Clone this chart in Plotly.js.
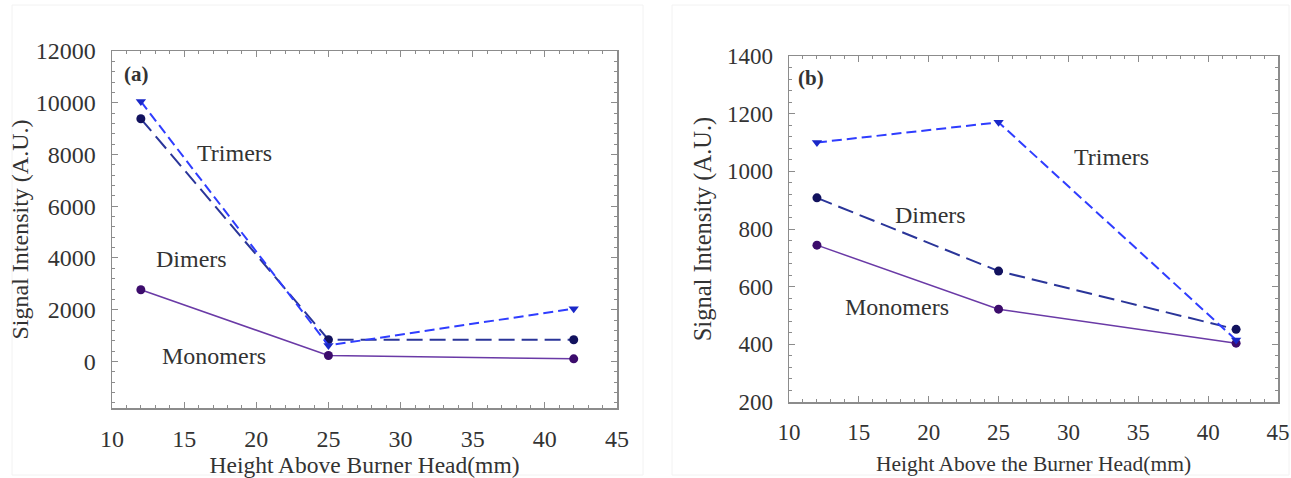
<!DOCTYPE html>
<html>
<head>
<meta charset="utf-8">
<script src="https://cdn.plot.ly/plotly-3.0.1.min.js"></script>
<style>html,body{margin:0;padding:0;background:#fff}#chart{width:1291px;height:478px}</style>
</head>
<body>
<div id="chart"></div>
<script>
// Panel (a)
var heightA = [12, 25, 42];
var trimersA = [10050, 620, 2040];
var dimersA = [9380, 840, 840];
var monomersA = [2770, 230, 100];
// Panel (b)
var heightB = [12, 25, 42];
var trimersB = [1100, 1170, 415];
var dimersB = [908, 654, 452];
var monomersB = [744, 522, 404];

var W = 1291, H = 478;
var serif = "Liberation Serif, Times New Roman, serif";
var txt = "#333333";
var frame = "#8c8c8c";

var cTri = "#2f3dff", cTriM = "#1a28c8";
var cDim = "#2a3599", cDimM = "#12125e";
var cMon = "#6a3aa6", cMonM = "#3c0c6c";

function tr(x, y, xa, ya, kind) {
  var t = {x: x, y: y, xaxis: xa, yaxis: ya, mode: "lines+markers", showlegend: false, hoverinfo: "x+y"};
  if (kind === "tri") {
    t.name = "Trimers";
    t.line = {color: cTri, width: 2, dash: "10px,5px"};
    t.marker = {symbol: "triangle-down", size: 9, color: cTriM};
  } else if (kind === "dim") {
    t.name = "Dimers";
    t.line = {color: cDim, width: 2, dash: "16px,7px"};
    t.marker = {symbol: "circle", size: 9, color: cDimM};
  } else {
    t.name = "Monomers";
    t.line = {color: cMon, width: 1.5};
    t.marker = {symbol: "circle", size: 9, color: cMonM};
  }
  return t;
}

var data = [
  tr(heightA, monomersA, "x", "y", "mon"),
  tr(heightA, dimersA, "x", "y", "dim"),
  tr(heightA, trimersA, "x", "y", "tri"),
  tr(heightB, monomersB, "x2", "y2", "mon"),
  tr(heightB, dimersB, "x2", "y2", "dim"),
  tr(heightB, trimersB, "x2", "y2", "tri")
];

function xax(dom, size, titleText, titleSize, standoff) {
  return {
    domain: dom, range: [10, 45], dtick: 5, tick0: 10,
    showgrid: false, zeroline: false,
    showline: true, linecolor: frame, linewidth: 1.5, mirror: "allticks",
    ticks: "inside", ticklen: 6, tickcolor: frame, tickwidth: 1,
    minor: {dtick: 1, ticks: "inside", ticklen: 3, tickcolor: frame, showgrid: false},
    tickfont: {family: serif, size: size, color: txt},
    ticklabelstandoff: 9,
    title: {text: titleText, font: {family: serif, size: titleSize, color: txt}, standoff: standoff}
  };
}
function yax(dom, range, dtick, minorD, size, titleText, titleSize, standoff) {
  return {
    domain: dom, range: range, dtick: dtick, tick0: 0, tickformat: "d",
    showgrid: false, zeroline: false,
    showline: true, linecolor: frame, linewidth: 1.5, mirror: "allticks",
    ticks: "inside", ticklen: 6, tickcolor: frame, tickwidth: 1,
    minor: {dtick: minorD, ticks: "inside", ticklen: 3, tickcolor: frame, showgrid: false},
    tickfont: {family: serif, size: size, color: txt},
    ticklabelstandoff: 10,
    title: {text: titleText, font: {family: serif, size: titleSize, color: txt}, standoff: standoff}
  };
}

var xa = xax([112 / W, 617 / W], 24, "Height Above Burner Head(mm)", 23.5, 10);
var ya = yax([1 - 408 / H, 1 - 51 / H], [-1800, 12000], 2000, 400, 24, "Signal Intensity (A.U.)", 24, 0);
var xb = xax([789 / W, 1278 / W], 23, "Height Above the Burner Head(mm)", 21.5, 12);
xb.anchor = "y2";
var yb = yax([1 - 402 / H, 1 - 56 / H], [200, 1400], 200, 40, 23, "Signal Intensity (A.U.)", 24.5, 8);
yb.anchor = "x2";
ya.anchor = "x";
xa.anchor = "y";

function ann(text, xref, yref, x, y, bold) {
  return {text: bold ? "<b>" + text + "</b>" : text, xref: xref, yref: yref, x: x, y: y,
    showarrow: false, font: {family: serif, size: bold ? 21 : 24, color: txt}, xanchor: "center", yanchor: "middle"};
}

var annotations = [
  ann("(a)", "x", "y", 11.7, 11100, true),
  ann("Trimers", "x", "y", 18.5, 8050),
  ann("Dimers", "x", "y", 15.5, 3950),
  ann("Monomers", "x", "y", 17.1, 200),
  ann("(b)", "x2", "y2", 11.6, 1325, true),
  ann("Trimers", "x2", "y2", 33.1, 1050),
  ann("Dimers", "x2", "y2", 20.1, 849),
  ann("Monomers", "x2", "y2", 17.7, 530)
];

var shapes = [
  {type: "rect", xref: "paper", yref: "paper", x0: 12 / W, x1: 643 / W, y0: 1 - 475 / H, y1: 1 - 5 / H,
    line: {color: "#f2f2f2", width: 1}, fillcolor: "rgba(0,0,0,0)", layer: "below"},
  {type: "rect", xref: "paper", yref: "paper", x0: 672 / W, x1: 1289 / W, y0: 1 - 475 / H, y1: 1 - 5 / H,
    line: {color: "#f2f2f2", width: 1}, fillcolor: "rgba(0,0,0,0)", layer: "below"}
];

var layout = {
  width: W, height: H,
  margin: {l: 0, r: 0, t: 0, b: 0},
  paper_bgcolor: "#ffffff", plot_bgcolor: "#ffffff",
  xaxis: xa, yaxis: ya, xaxis2: xb, yaxis2: yb,
  annotations: annotations,
  shapes: shapes,
  showlegend: false
};

Plotly.newPlot("chart", data, layout, {displayModeBar: false, staticPlot: true});
</script>
</body>
</html>
